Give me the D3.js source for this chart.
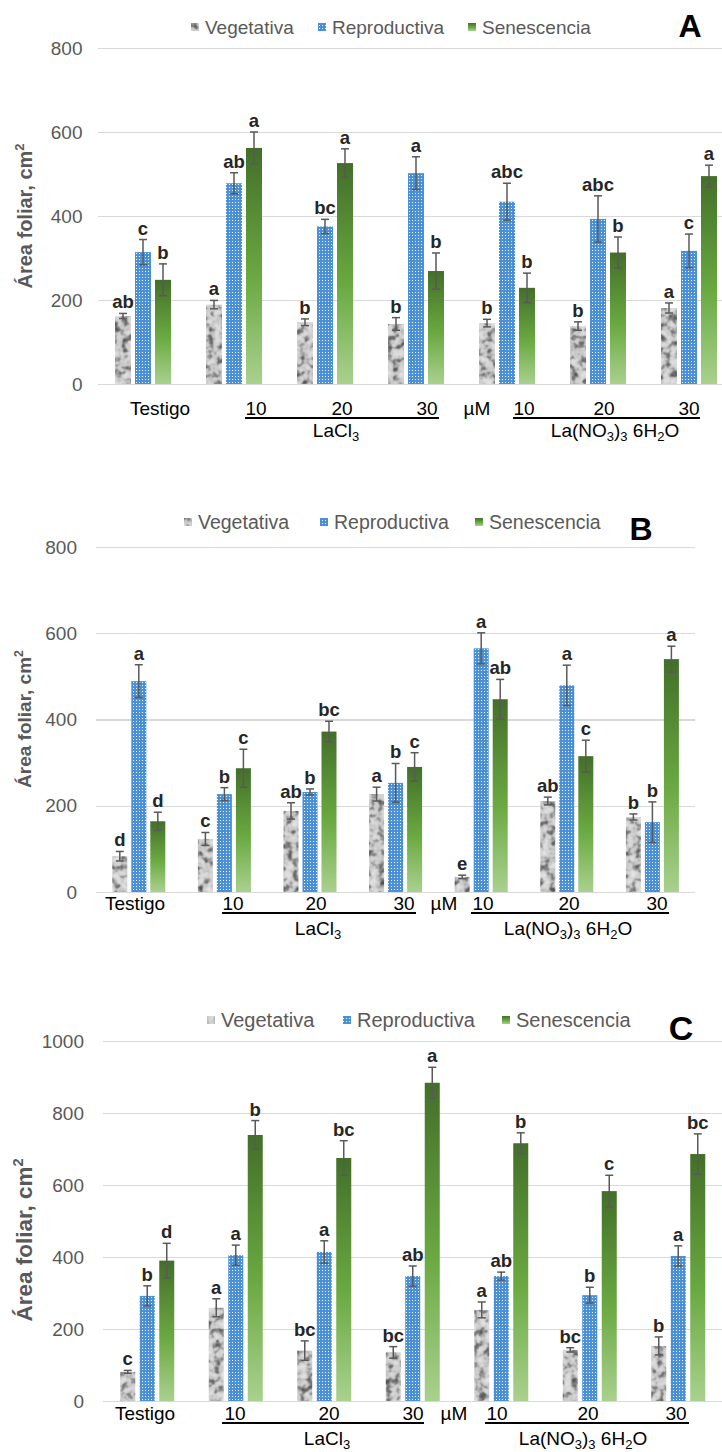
<!DOCTYPE html>
<html lang="es">
<head>
<meta charset="UTF-8">
<title>Área foliar</title>
<style>
  body { margin: 0; background: #fff; }
  svg { display: block; font-family: "Liberation Sans", Arial, sans-serif; }
  .grid line { stroke: #d9d9d9; stroke-width: 1.3px; shape-rendering: crispEdges; }
  .grid text { fill: #595959; }
  .err { stroke: #595959; stroke-width: 1.5px; }
  .letter { font-weight: bold; fill: #262626; text-anchor: middle; }
  .xlab { fill: #000; text-anchor: middle; }
  .legend text { fill: #595959; }
  .ytitle { font-weight: bold; fill: #595959; text-anchor: middle; }
  .panel-id { font-weight: bold; fill: #000; text-anchor: middle; }
</style>
</head>
<body>
<div id="chart"></div>
<script src="https://d3js.org/d3.v7.min.js"></script>
<script>
// ---- data ----
const series = ["Vegetativa", "Reproductiva", "Senescencia"];
const treatments = ["Testigo", "LaCl3 10", "LaCl3 20", "LaCl3 30", "La(NO3)3 10", "La(NO3)3 20", "La(NO3)3 30"];
const xLabels = ["Testigo", "10", "20", "30", "µM", "10", "20", "30"];
const ticksAB = [0, 200, 400, 600, 800];
const ticksC = [0, 200, 400, 600, 800, 1000];

// Panel A
const aVeg = [162, 189, 147, 143, 145, 138, 181];
const aVegErr = [6, 10, 8, 15, 9, 10, 12];
const aRep = [314, 478, 375, 502, 434, 393, 317];
const aRepErr = [30, 25, 17, 39, 44, 55, 40];
const aSen = [248, 562, 526, 269, 229, 313, 495];
const aSenErr = [38, 38, 34, 43, 35, 37, 26];
const aVegLet = ["ab", "a", "b", "b", "b", "b", "a"];
const aRepLet = ["c", "ab", "bc", "a", "abc", "abc", "c"];
const aSenLet = ["b", "a", "a", "b", "b", "b", "a"];

// Panel B
const bVeg = [83, 123, 188, 227, 35, 211, 174];
const bVegErr = [11, 15, 19, 16, 4, 9, 7];
const bRep = [489, 227, 232, 253, 565, 479, 162];
const bRepErr = [38, 15, 7, 45, 36, 47, 47];
const bSen = [164, 287, 372, 290, 447, 315, 540];
const bSenErr = [21, 44, 24, 33, 46, 37, 30];
const bVegLet = ["d", "c", "ab", "a", "e", "ab", "b"];
const bRepLet = ["a", "b", "b", "b", "a", "a", "b"];
const bSenLet = ["d", "c", "bc", "c", "ab", "c", "a"];

// Panel C
const cVeg = [81, 259, 140, 135, 253, 142, 153];
const cVegErr = [4, 25, 27, 16, 22, 6, 25];
const cRep = [292, 405, 414, 347, 347, 294, 403];
const cRepErr = [28, 28, 31, 28, 11, 22, 28];
const cSen = [390, 739, 675, 884, 716, 583, 686];
const cSenErr = [48, 40, 48, 43, 29, 44, 56];
const cVegLet = ["c", "a", "bc", "bc", "a", "bc", "b"];
const cRepLet = ["b", "a", "a", "ab", "ab", "b", "a"];
const cSenLet = ["d", "b", "bc", "a", "b", "c", "bc"];

// ---- layout ----
const width = 722, height = 1452;

const panels = [
  { id: "A", vals: [aVeg, aRep, aSen], errs: [aVegErr, aRepErr, aSenErr], lets: [aVegLet, aRepLet, aSenLet],
    ticks: ticksAB, max: 800, y0: 384, yTop: 48, left: 97.5, band: 91, step: 20, pad: 0.2, gridRight: 722,
    tickPad: 15, tickSize: 19, cap: 8,
    labelX: [160, 256, 342, 427, 477, 524, 604, 689], labelY: 415,
    lines: [[245, 439], [513, 700]], lineY: 418, grpX: [336, 615], grpY: 437,
    titleX: 32, titleY: 216, titleSize: 20,
    legSq: [191, 318, 468], legY: 27, legSize: 19, idX: 690, idY: 37, idSize: 32 },
  { id: "B", vals: [bVeg, bRep, bSen], errs: [bVegErr, bRepErr, bSenErr], lets: [bVegLet, bRepLet, bSenLet],
    ticks: ticksAB, max: 800, y0: 892, yTop: 547, left: 96, band: 85.6, step: 19, pad: 0.21, gridRight: 695,
    tickPad: 19, tickSize: 19, cap: 8,
    labelX: [135, 233, 316, 404, 444, 483, 569, 657], labelY: 910,
    lines: [[222, 416], [471, 669]], lineY: 913, grpX: [318, 568], grpY: 935,
    titleX: 31, titleY: 719, titleSize: 19,
    legSq: [184, 320, 475], legY: 522, legSize: 19.5, idX: 641, idY: 540, idSize: 32 },
  { id: "C", vals: [cVeg, cRep, cSen], errs: [cVegErr, cRepErr, cSenErr], lets: [cVegLet, cRepLet, cSenLet],
    ticks: ticksC, max: 1000, y0: 1401, yTop: 1041, left: 103, band: 88.5, step: 19.5, pad: 0.23, gridRight: 722,
    tickPad: 19, tickSize: 19, cap: 8,
    labelX: [145, 235, 329, 413, 454, 497, 588, 676], labelY: 1420,
    lines: [[222, 424], [485, 689]], lineY: 1423, grpX: [327, 583], grpY: 1445,
    titleX: 32, titleY: 1240, titleSize: 22.5,
    legSq: [207, 343, 502], legY: 1020, legSize: 20, idX: 681, idY: 1040, idSize: 34 }
];

const svg = d3.select('#chart')
  .append('svg')
  .attr('width', width)
  .attr('height', height);

// fills
const defs = svg.append('defs');

const granite = defs.append('filter')
  .attr('id', 'granite')
  .attr('x', 0).attr('y', 0).attr('width', 1).attr('height', 1)
  .attr('color-interpolation-filters', 'sRGB');
granite.append('feTurbulence')
  .attr('type', 'fractalNoise').attr('baseFrequency', 0.14).attr('numOctaves', 2).attr('seed', 4)
  .attr('result', 'noise');
granite.append('feColorMatrix')
  .attr('in', 'noise').attr('type', 'matrix')
  .attr('values', '1 0 0 0 0  1 0 0 0 0  1 0 0 0 0  0 0 0 0 1')
  .attr('result', 'gray');
const ct = granite.append('feComponentTransfer').attr('in', 'gray').attr('result', 'tone');
['feFuncR', 'feFuncG', 'feFuncB'].forEach(f => {
  ct.append(f).attr('type', 'table').attr('tableValues', '0.25 0.32 0.52 0.78 0.85 0.89 0.92');
});
granite.append('feComposite').attr('in', 'tone').attr('in2', 'SourceGraphic').attr('operator', 'in');

const dots = defs.append('pattern')
  .attr('id', 'dots')
  .attr('patternUnits', 'userSpaceOnUse')
  .attr('width', 3).attr('height', 3);
dots.append('rect').attr('width', 3).attr('height', 3).attr('fill', '#4a90d9');
dots.append('rect').attr('x', 1).attr('y', 1).attr('width', 1).attr('height', 1).attr('fill', '#ffffff');

const grad = defs.append('linearGradient')
  .attr('id', 'green')
  .attr('x1', 0).attr('y1', 0).attr('x2', 0).attr('y2', 1);
grad.append('stop').attr('offset', '0%').attr('stop-color', '#436f29');
grad.append('stop').attr('offset', '55%').attr('stop-color', '#6aa941');
grad.append('stop').attr('offset', '100%').attr('stop-color', '#a9d18e');

const fills = { Vegetativa: '#c8c8c8', Reproductiva: 'url(#dots)', Senescencia: 'url(#green)' };
const filters = { Vegetativa: 'url(#granite)', Reproductiva: null, Senescencia: null };

function drawPanel(p) {
  const g = svg.append('g');

  const y = d3.scaleLinear().domain([0, p.max]).range([p.y0, p.yTop]);
  const x = d3.scaleBand().domain(treatments).range([p.left, p.left + p.band * treatments.length]);
  const xs = d3.scaleBand().domain(series)
    .range([-1.5 * p.step, 1.5 * p.step])
    .paddingInner(p.pad).paddingOuter(p.pad / 2);

  // gridlines + tick labels
  g.append('g')
    .attr('class', 'grid')
    .attr('transform', `translate(${p.left},0)`)
    .call(d3.axisLeft(y).tickValues(p.ticks).tickFormat(d3.format('d'))
      .tickSize(-(p.gridRight - p.left)).tickPadding(p.tickPad))
    .call(a => a.select('.domain').remove())
    .call(a => a.selectAll('text').attr('font-size', p.tickSize).attr('font-family', null));

  const rows = [];
  treatments.forEach((t, i) => {
    series.forEach((s, j) => {
      rows.push({ t, s, v: p.vals[j][i], e: p.errs[j][i], l: p.lets[j][i] });
    });
  });
  const cx = d => x(d.t) + x.bandwidth() / 2 + xs(d.s) + xs.bandwidth() / 2;

  g.selectAll('.bar')
    .data(rows)
    .enter().append('rect')
    .attr('class', 'bar')
    .attr('x', d => cx(d) - xs.bandwidth() / 2)
    .attr('width', xs.bandwidth())
    .attr('y', d => y(d.v))
    .attr('height', d => y(0) - y(d.v))
    .attr('fill', d => fills[d.s])
    .attr('filter', d => filters[d.s]);

  // error bars
  const eb = g.selectAll('.eb').data(rows).enter().append('g').attr('class', 'err');
  eb.append('line')
    .attr('x1', cx).attr('x2', cx)
    .attr('y1', d => y(d.v - d.e)).attr('y2', d => y(d.v + d.e));
  eb.append('line')
    .attr('x1', d => cx(d) - p.cap / 2).attr('x2', d => cx(d) + p.cap / 2)
    .attr('y1', d => y(d.v + d.e)).attr('y2', d => y(d.v + d.e));
  eb.append('line')
    .attr('x1', d => cx(d) - p.cap / 2).attr('x2', d => cx(d) + p.cap / 2)
    .attr('y1', d => y(d.v - d.e)).attr('y2', d => y(d.v - d.e));

  // significance letters
  g.selectAll('.letter')
    .data(rows)
    .enter().append('text')
    .attr('class', 'letter')
    .attr('x', cx)
    .attr('y', d => y(d.v + d.e) - 5)
    .attr('font-size', 18.5)
    .text(d => d.l);

  // x labels
  g.selectAll('.xlab')
    .data(xLabels)
    .enter().append('text')
    .attr('class', 'xlab')
    .attr('x', (d, k) => p.labelX[k])
    .attr('y', p.labelY)
    .attr('font-size', 19)
    .text(d => d);

  g.selectAll('.uline')
    .data(p.lines)
    .enter().append('line')
    .attr('x1', d => d[0]).attr('x2', d => d[1])
    .attr('y1', p.lineY).attr('y2', p.lineY)
    .attr('stroke', '#000').attr('stroke-width', 1.8);

  const t1 = g.append('text').attr('class', 'xlab').attr('x', p.grpX[0]).attr('y', p.grpY).attr('font-size', 19);
  t1.append('tspan').text('LaCl');
  t1.append('tspan').attr('font-size', 13).attr('dy', 4).text('3');

  const t2 = g.append('text').attr('class', 'xlab').attr('x', p.grpX[1]).attr('y', p.grpY).attr('font-size', 19);
  t2.append('tspan').text('La(NO');
  t2.append('tspan').attr('font-size', 13).attr('dy', 4).text('3');
  t2.append('tspan').attr('dy', -4).text(')');
  t2.append('tspan').attr('font-size', 13).attr('dy', 4).text('3');
  t2.append('tspan').attr('dy', -4).text(' 6H');
  t2.append('tspan').attr('font-size', 13).attr('dy', 4).text('2');
  t2.append('tspan').attr('dy', -4).text('O');

  // y title
  const yt = g.append('text')
    .attr('class', 'ytitle')
    .attr('transform', `translate(${p.titleX},${p.titleY}) rotate(-90)`)
    .attr('font-size', p.titleSize);
  yt.append('tspan').text('Área foliar, cm');
  yt.append('tspan').attr('font-size', p.titleSize * 0.65).attr('dy', -p.titleSize * 0.4).text('2');

  // legend
  const leg = g.append('g').attr('class', 'legend');
  series.forEach((s, j) => {
    leg.append('rect')
      .attr('x', p.legSq[j]).attr('y', p.legY - 4)
      .attr('width', 8).attr('height', 8)
      .attr('fill', fills[s])
      .attr('filter', filters[s]);
    leg.append('text')
      .attr('x', p.legSq[j] + 14)
      .attr('y', p.legY + 7)
      .attr('font-size', p.legSize)
      .text(s);
  });

  g.append('text')
    .attr('class', 'panel-id')
    .attr('x', p.idX).attr('y', p.idY)
    .attr('font-size', p.idSize)
    .text(p.id);
}

panels.forEach(drawPanel);
</script>
</body>
</html>
